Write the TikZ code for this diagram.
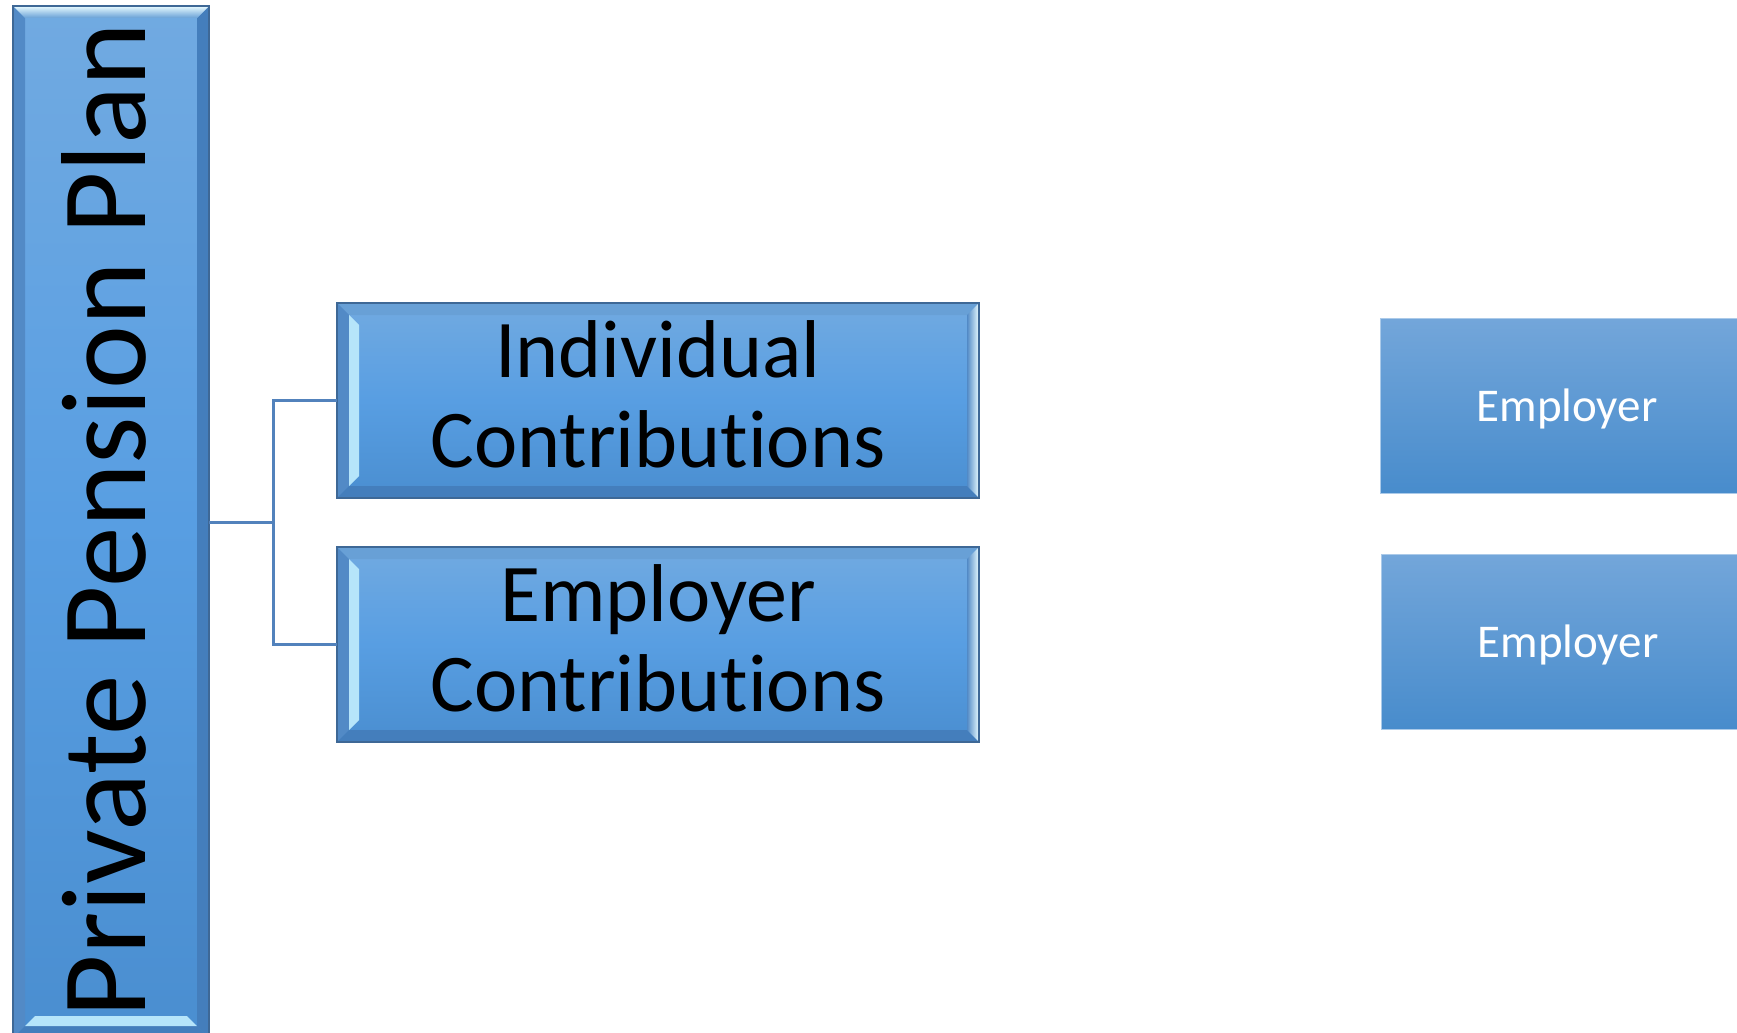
\documentclass[tikz,border=0pt]{standalone}
\usepackage{fontspec}
\setmainfont{Carlito}[Ligatures=NoCommon]
\usetikzlibrary{calc}

\definecolor{boxtop}{RGB}{113,170,225}
\definecolor{boxmid}{RGB}{88,158,226}
\definecolor{boxbot}{RGB}{74,142,208}
\definecolor{boxedge}{RGB}{62,104,150}
\definecolor{faceup}{RGB}{104,160,214}
\definecolor{facedark}{RGB}{82,138,198}
\definecolor{facelow}{RGB}{68,126,188}
\definecolor{shine}{RGB}{232,251,255}
\definecolor{glint}{RGB}{182,229,250}
\definecolor{linkblue}{RGB}{82,130,188}
\definecolor{plaintop}{RGB}{115,166,218}
\definecolor{plainbot}{RGB}{72,140,204}

\tikzset{
  bevelbox/.style={draw=boxedge, line width=2pt, top color=boxtop, bottom color=boxbot, middle color=boxmid, outer sep=0pt, inner sep=0pt},
  bigtext/.style={font=\fontsize{82}{90}\selectfont, align=center, text depth=12pt},
  flatbox/.style={draw=plaintop!60!white, line width=1pt, top color=plaintop, bottom color=plainbot, outer sep=0pt, minimum width=374, minimum height=175, text=white, text depth=0pt, font=\fontsize{47}{56}\selectfont},
  link/.style={draw=linkblue, line width=3pt},
}

\begin{document}
\begin{tikzpicture}[x=1pt,y=-1pt]
\useasboundingbox (0,0) rectangle (1737,1033);

% plan column
\node[bevelbox, minimum width=196, minimum height=1032] (plan) at (111,522) {};

% bevel on plan column
\fill[facedark] (plan.north west) -- ($(plan.north west)+(12,12)$) -- ($(plan.south west)+(12,-12)$) -- (plan.south west) -- cycle;
\fill[facelow] (plan.north east) -- ($(plan.north east)+(-12,12)$) -- ($(plan.south east)+(-12,-12)$) -- (plan.south east) -- cycle;
\fill[facelow] (plan.south west) -- ($(plan.south west)+(12,-12)$) -- ($(plan.south east)+(-12,-12)$) -- (plan.south east) -- cycle;
\shade[top color=shine, bottom color=faceup] (plan.north west) -- (plan.north east) -- ($(plan.north east)+(-12,12)$) -- ($(plan.north west)+(12,12)$) -- cycle;
\fill[glint] ($(plan.south west)+(12,-12)$) -- ($(plan.south east)+(-12,-12)$) -- ($(plan.south east)+(-22,-22)$) -- ($(plan.south west)+(22,-22)$) -- cycle;
\draw[boxedge, line width=2pt] (plan.north west) rectangle (plan.south east);

\node[rotate=90, anchor=base, font=\fontsize{121}{140}\selectfont] (plantext) at (145,520) {Private Pension Plan};

% contribution boxes
\node[bevelbox, bigtext, minimum width=642, minimum height=195] (indiv) at (658,400.5) {Individual\\Contributions};
\node[bevelbox, bigtext, minimum width=642, minimum height=195] (employ) at (658,644.5) {Employer\\Contributions};

% bevels on contribution boxes
\foreach \b in {indiv,employ}
{
\fill[faceup] (\b.north west) -- (\b.north east) -- ($(\b.north east)+(-12,12)$) -- ($(\b.north west)+(12,12)$) -- cycle;
\fill[facedark] (\b.north west) -- ($(\b.north west)+(12,12)$) -- ($(\b.south west)+(12,-12)$) -- (\b.south west) -- cycle;
\fill[facelow] (\b.south west) -- ($(\b.south west)+(12,-12)$) -- ($(\b.south east)+(-12,-12)$) -- (\b.south east) -- cycle;
\shade[left color=facedark, middle color=glint, right color=shine] (\b.north east) -- (\b.south east) -- ($(\b.south east)+(-12,-12)$) -- ($(\b.north east)+(-12,12)$) -- cycle;
\fill[glint] ($(\b.north west)+(12,12)$) -- ($(\b.north west)+(22,22)$) -- ($(\b.south west)+(22,-22)$) -- ($(\b.south west)+(12,-12)$) -- cycle;
\draw[boxedge, line width=2pt] (\b.north west) rectangle (\b.south east);
}

% links
\draw[link] (plan.east) -- ++(64,0) coordinate (fork);
\draw[link] (indiv.west) -| (fork) |- (employ.west);

% employer boxes
\node[flatbox] (emptop) at (1567,405.5) {Employer};
\node[flatbox] (empbot) at (1568,641.5) {Employer};
\end{tikzpicture}
\end{document}
